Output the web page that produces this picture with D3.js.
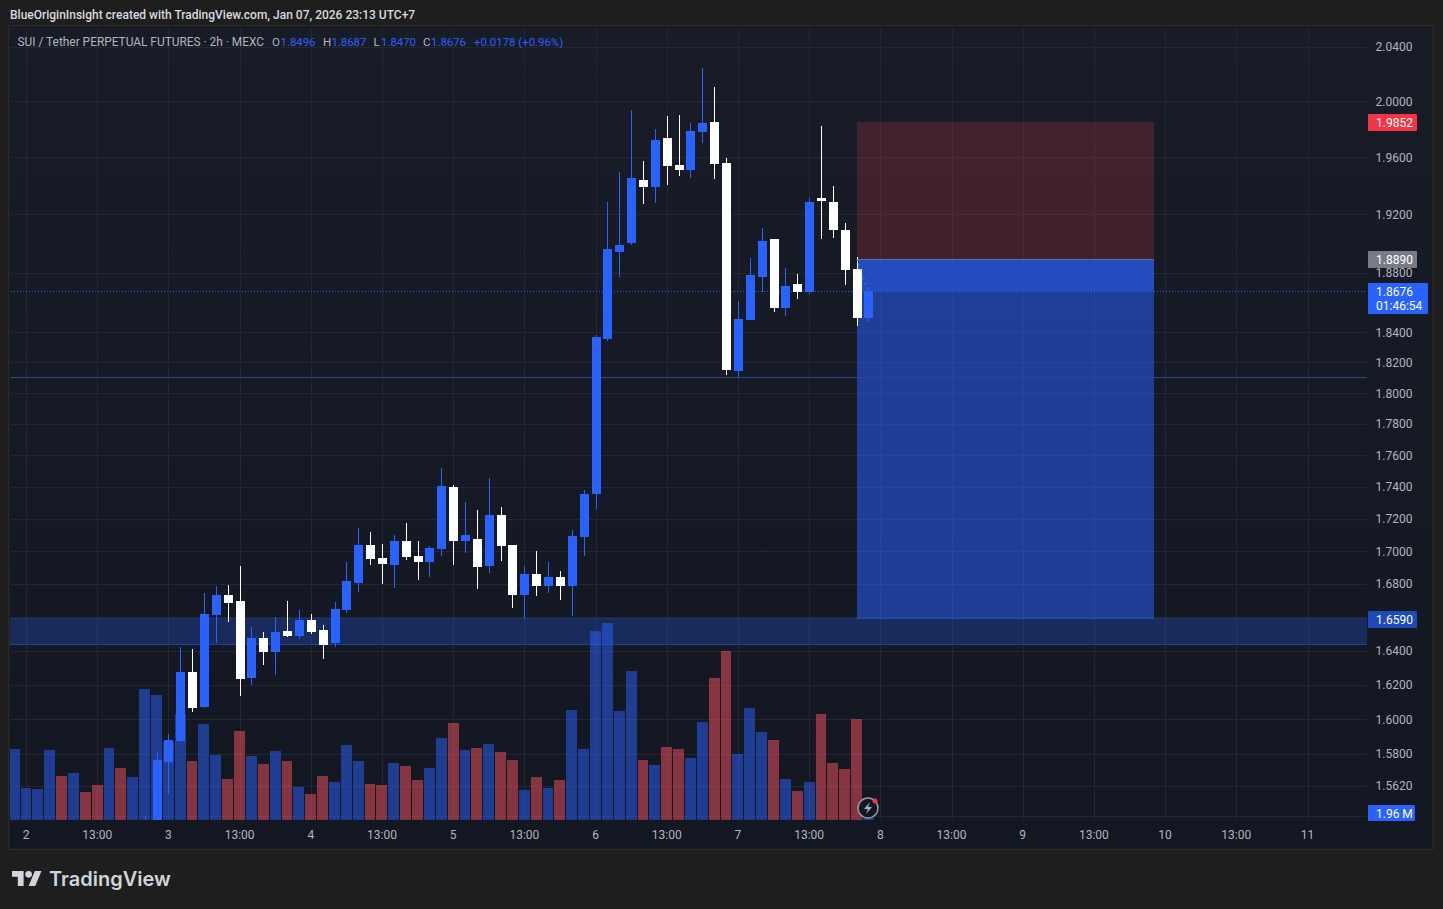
<!DOCTYPE html>
<html>
<head>
<meta charset="utf-8">
<style>
html,body{margin:0;padding:0;background:#1e1e1e;overflow:hidden}
svg{display:block}
text{font-family:Roboto,"Noto Sans",sans-serif}
</style>
<script src="https://cdn.jsdelivr.net/npm/d3@7/dist/d3.min.js"></script>
</head>
<body>
<div id="chart"></div>
<script>
// ---------- data ----------
const firstCandleIndex = 10;
const candleOpen  = [1.5200,1.5300,1.5755,1.5875,1.6275,1.6070,1.6614,1.6734,1.6698,1.6238,1.6476,1.6392,1.6518,1.6488,1.6584,1.6524,1.6446,1.6644,1.6806,1.7039,1.6960,1.6917,1.7064,1.6972,1.6935,1.7015,1.7400,1.7064,1.7076,1.6911,1.7224,1.7039,1.6734,1.6862,1.6788,1.6843,1.6788,1.7088,1.7356,1.8355,1.8941,1.9003,1.9440,1.9392,1.9738,1.9546,1.9511,1.9781,1.9852,1.9560,1.8145,1.8482,1.8770,1.9030,1.8562,1.8723,1.8670,1.9314,1.9286,1.9092,1.8825,1.8496];
const candleHigh  = [1.5449,1.5818,1.5915,1.6422,1.6410,1.6746,1.6788,1.6794,1.6911,1.6542,1.6512,1.6602,1.6698,1.6644,1.6620,1.6554,1.6692,1.6935,1.7144,1.7119,1.7046,1.7101,1.7174,1.7064,1.7033,1.7520,1.7413,1.7306,1.7255,1.7457,1.7274,1.7039,1.6911,1.7003,1.6935,1.6880,1.7131,1.7382,1.8380,1.9286,1.9497,1.9938,1.9574,1.9802,1.9895,1.9902,1.9845,2.0243,2.0104,1.9595,1.8609,1.8900,1.9106,1.9030,1.8832,1.8791,1.9314,1.9824,1.9399,1.9140,1.8908,1.8687];
const candleLow   = [1.5100,1.5250,1.5572,1.5870,1.6040,1.6064,1.6446,1.6572,1.6132,1.6198,1.6316,1.6258,1.6482,1.6470,1.6500,1.6351,1.6422,1.6626,1.6752,1.6917,1.6800,1.6776,1.6947,1.6825,1.6843,1.6972,1.6917,1.6990,1.6770,1.6868,1.6941,1.6656,1.6596,1.6728,1.6746,1.6704,1.6608,1.6972,1.7260,1.8342,1.8770,1.8989,1.9272,1.9279,1.9406,1.9469,1.9455,1.9702,1.9448,1.8119,1.8106,1.8482,1.8670,1.8535,1.8509,1.8623,1.8656,1.9030,1.9037,1.8717,1.8441,1.8470];
const candleClose = [1.5350,1.5766,1.5880,1.6275,1.6064,1.6620,1.6734,1.6686,1.6232,1.6476,1.6392,1.6512,1.6488,1.6584,1.6512,1.6434,1.6650,1.6819,1.7039,1.6954,1.6923,1.7064,1.6966,1.6935,1.7021,1.7406,1.7064,1.7101,1.6905,1.7224,1.7033,1.6734,1.6862,1.6788,1.6843,1.6788,1.7095,1.7356,1.8368,1.8962,1.8989,1.9454,1.9392,1.9724,1.9539,1.9511,1.9788,1.9845,1.9553,1.8151,1.8487,1.8784,1.9017,1.8562,1.8710,1.8670,1.9286,1.9293,1.9092,1.8818,1.8496,1.8676];

const firstVolumeIndex = -1;
const volumeValues = [85.2,38.4,37.2,84,52.8,56.4,33.6,42,86.4,62.4,51.6,157.2,150,93.6,127.2,70.8,115.2,78,49.2,106.8,76.8,67.2,82.8,70.8,39.6,31.2,52.8,45.6,90,70.8,43.2,42,68.4,64.8,48,62.4,98.4,116.4,84,86.4,91.2,81.6,72,36,51.6,38.4,48,132,85.2,226.8,236.4,130.8,178.8,72,66,87.6,85.2,74.4,117.6,170.4,202.8,79.2,134.4,105.6,96,49.2,34.8,45.6,127.2,68.4,61.2,121.2,1.96];
const volumeSide = ("bbbbrbrrbrb"+"bbbbrbbrrb"+"rbrbrrbbbr"+"rbrrbbrbrb"+"rrbrbrbbbb"+"bbrbrrbbrr"+"bbbrbrbrrrrb").split("");

const priceTickValues = [2.04,2.00,1.96,1.92,1.88,1.84,1.82,1.80,1.78,1.76,1.74,1.72,1.70,1.68,1.66,1.64,1.62,1.60,1.58,1.562,1.545];
const hiddenPriceTicks = [1.66,1.545];
const timeTickLabels = ["2","13:00","3","13:00","4","13:00","5","13:00","6","13:00","7","13:00","8","13:00","9","13:00","10","13:00","11"];
const timeTickIndex = [0,6,12,18,24,30,36,42,48,54,60,66,72,78,84,90,96,102,108];

const zoneTop = 1.6590, zoneBottom = 1.6440;
const horizontalRay = 1.8102;
const lastPrice = 1.8676, countdown = "01:46:54";
const entryPrice = 1.8890, stopPrice = 1.9852, targetPrice = 1.6590;
const positionStartIndex = 70, positionEndIndex = 95;
const legendPrefix = "SUI / Tether PERPETUAL FUTURES · 2h · MEXC";
const legendOHLC = [["O","1.8496"],["H","1.8687"],["L","1.8470"],["C","1.8676"]];
const legendChange = "+0.0178 (+0.96%)";
const headerText = "BlueOriginInsight created with TradingView.com, Jan 07, 2026 23:13 UTC+7";
const lastVolumeLabel = "1.96 M";

// ---------- layout ----------
const W = 1443, H = 909;
const frame = {l:10,t:27,r:1432,b:848};
const plot = {l:11,t:28,r:1367,b:820};
const BLUE="#2962ff", GRID="#242732", AXIS="#b2b5be";

const x = d3.scaleLinear().domain([0,108]).range([26,1307.5]);
const y = d3.scaleLog().domain([1.6,2.04]).range([719,46.5]);
const v = d3.scaleLinear().domain([0,240]).range([820,620]);

const svg = d3.select("#chart").append("svg").attr("width",W).attr("height",H);
const defs = svg.append("defs");
const grad = defs.append("linearGradient").attr("id","paneBg").attr("x1",0).attr("x2",0).attr("y1",0).attr("y2",1);
grad.append("stop").attr("offset","0%").attr("stop-color","#181c27");
grad.append("stop").attr("offset","100%").attr("stop-color","#131722");
defs.append("clipPath").attr("id","plotClip").append("rect")
  .attr("x",plot.l-1).attr("y",plot.t).attr("width",plot.r-plot.l+1).attr("height",plot.b-plot.t);

// frame
svg.append("rect").attr("x",frame.l-1.5).attr("y",frame.t-1.5).attr("width",frame.r-frame.l+3).attr("height",frame.b-frame.t+3)
  .attr("fill","none").attr("stroke","#2a2a2e").attr("stroke-width",1);
svg.append("rect").attr("x",frame.l).attr("y",frame.t).attr("width",frame.r-frame.l).attr("height",frame.b-frame.t).attr("fill","url(#paneBg)");

// grid
const gridG = svg.append("g");
gridG.selectAll("line.h").data(priceTickValues).join("line").attr("class","h")
  .attr("x1",plot.l).attr("x2",plot.r)
  .attr("y1",d=>Math.round(y(d))+.5).attr("y2",d=>Math.round(y(d))+.5)
  .attr("stroke",GRID);
gridG.selectAll("line.v").data(timeTickIndex).join("line").attr("class","v")
  .attr("y1",plot.t).attr("y2",plot.b)
  .attr("x1",d=>Math.round(x(d))+.5).attr("x2",d=>Math.round(x(d))+.5)
  .attr("stroke",GRID);

const clip = svg.append("g").attr("clip-path","url(#plotClip)");

// support zone
const zT=Math.round(y(zoneTop)), zB=Math.round(y(zoneBottom));
clip.append("rect").attr("x",plot.l-1).attr("width",plot.r-plot.l+1).attr("y",zT).attr("height",zB-zT).attr("fill","#2962ff").attr("opacity",.25);
clip.append("line").attr("x1",plot.l-1).attr("x2",plot.r).attr("y1",zT-.5).attr("y2",zT-.5).attr("stroke","#1a3474");
clip.append("line").attr("x1",plot.l-1).attr("x2",plot.r).attr("y1",zB+.5).attr("y2",zB+.5).attr("stroke","#1e40a0");

// position tool
const pL=Math.round(x(positionStartIndex)), pR=Math.round(x(positionEndIndex))+1;
const yEntry=Math.round(y(entryPrice)), yStop=Math.round(y(stopPrice)), yTarget=Math.round(y(targetPrice)), yLast=Math.round(y(lastPrice));
clip.append("rect").attr("x",pL).attr("width",pR-pL).attr("y",yStop).attr("height",yEntry-yStop).attr("fill","#f23645").attr("opacity",.2);
clip.append("rect").attr("x",pL).attr("width",pR-pL).attr("y",yEntry).attr("height",yTarget-yEntry).attr("fill","#2962ff").attr("opacity",.52);
clip.append("rect").attr("x",pL).attr("width",pR-pL).attr("y",yEntry).attr("height",yLast-yEntry).attr("fill","#2962ff").attr("opacity",.4);
clip.append("line").attr("x1",pL).attr("x2",pR).attr("y1",yEntry+.5).attr("y2",yEntry+.5).attr("stroke","#787b86").attr("opacity",.7);

// horizontal ray
clip.append("line").attr("x1",plot.l).attr("x2",plot.r).attr("y1",Math.round(y(horizontalRay))+.5).attr("y2",Math.round(y(horizontalRay))+.5).attr("stroke","#2b4796");

// last price dotted
clip.append("line").attr("x1",plot.l).attr("x2",plot.r).attr("y1",yLast+.5).attr("y2",yLast+.5)
  .attr("stroke",BLUE).attr("stroke-dasharray","1 2");

// volume
const volX = i => Math.round(x(i)-5.5);
clip.selectAll("rect.vol").data(volumeValues).join("rect").attr("class","vol")
  .attr("x",(d,k)=>volX(k+firstVolumeIndex))
  .attr("width",(d,k)=>volX(k+firstVolumeIndex+1)-volX(k+firstVolumeIndex)-1)
  .attr("y",d=>Math.round(v(d)))
  .attr("height",d=>plot.b-Math.round(v(d)))
  .attr("fill",(d,k)=>volumeSide[k]==="b"?"rgba(41,98,255,.5)":"rgba(247,82,95,.5)");

// candles
const candles = candleOpen.map((o,k)=>({i:k+firstCandleIndex,o,h:candleHigh[k],l:candleLow[k],c:candleClose[k]}));
const colorOf = d=>d.c>=d.o?BLUE:"#ffffff";
const cG = clip.append("g");
cG.selectAll("rect.wick").data(candles).join("rect").attr("class","wick")
  .attr("x",d=>Math.round(x(d.i))).attr("width",1)
  .attr("y",d=>Math.round(y(d.h))).attr("height",d=>Math.max(1,Math.round(y(d.l))-Math.round(y(d.h))))
  .attr("fill",colorOf);
cG.selectAll("rect.body").data(candles).join("rect").attr("class","body")
  .attr("x",d=>Math.round(x(d.i))-4).attr("width",9)
  .attr("y",d=>Math.round(y(Math.max(d.o,d.c))))
  .attr("height",d=>Math.max(1,Math.round(y(Math.min(d.o,d.c)))-Math.round(y(Math.max(d.o,d.c)))))
  .attr("fill",colorOf);

// position arrow
clip.append("path").attr("d",`M${pL},${yEntry} L${Math.round(x(71))},${yLast}`).attr("stroke","#787b86").attr("stroke-dasharray","2 3").attr("fill","none");

// price axis labels
const yAxis = d3.axisRight(y).tickValues(priceTickValues.filter(d=>!hiddenPriceTicks.includes(d)))
  .tickFormat(d3.format(".4f")).tickSize(0).tickPadding(0);
const yG = svg.append("g").attr("transform",`translate(1375.6,0.2)`).call(yAxis);
yG.select(".domain").remove();
yG.selectAll("text").attr("fill",AXIS).style("font-size","12px").style("font-family","Roboto");

// time axis labels
const xAxis = d3.axisBottom(x).tickValues(timeTickIndex).tickFormat((d,k)=>timeTickLabels[k]).tickSize(0).tickPadding(0);
const xG = svg.append("g").attr("transform",`translate(-0.5,830)`).call(xAxis);
xG.select(".domain").remove();
xG.selectAll("text").attr("fill",AXIS).style("font-size","12px").style("font-family","Roboto");

// price tags
function tag(yc,w,h,fill,lines){
  const g=svg.append("g");
  g.append("rect").attr("x",1368).attr("y",yc).attr("width",w).attr("height",h).attr("fill",fill).attr("rx",1);
  lines.forEach((t,k)=>{
    g.append("text").attr("x",1376).attr("y",yc+12.5+k*14).attr("fill","#fff").style("font-size","12px").text(t);
  });
}
const f4=d3.format(".4f");
tag(Math.round(y(stopPrice))-8,49,17,"#f23645",[f4(stopPrice)]);
tag(Math.round(y(entryPrice))-8,49,17,"#787b86",[f4(entryPrice)]);
tag(Math.round(y(lastPrice))-8,60,31,BLUE,[f4(lastPrice),countdown]);
tag(Math.round(y(targetPrice))-8,49,17,"#1e49b8",[f4(targetPrice)]);
tag(805,47,16,BLUE,[lastVolumeLabel]);

// header and legend
svg.append("text").attr("x",10).attr("y",19).attr("fill","#d9dae0").style("font-size","12px").style("font-weight",500).text(headerText);
const lg = svg.append("text").attr("y",46);
lg.append("tspan").attr("x",17.5).attr("fill",AXIS).style("font-size","11.9px").text(legendPrefix);
const letterX=[272,323,373.5,423], valueX=[280.5,331.4,381,431];
legendOHLC.forEach(([a,b],k)=>{
  lg.append("tspan").attr("x",letterX[k]).attr("fill",AXIS).style("font-size","11.6px").text(a);
  lg.append("tspan").attr("x",valueX[k]).attr("fill",BLUE).style("font-size","11.4px").text(b);
});
lg.append("tspan").attr("x",474).attr("fill",BLUE).style("font-size","11.4px").text(legendChange);

// lightning badge
const bd = svg.append("g").attr("transform","translate(868,808)");
bd.append("circle").attr("r",10).attr("fill","#131722").attr("stroke","#9598a1").attr("stroke-width",1.5);
bd.append("path").attr("d","M2,-6 L-4,1 L0,1 L-2,6 L4,-1 L0,-1 Z").attr("fill","#b2b5be");
bd.append("circle").attr("cx",7).attr("cy",-7).attr("r",2.5).attr("fill","#f23645");

// TradingView logo
const logo = svg.append("g").attr("transform","translate(12,867.7) scale(.83)").attr("fill","#d1d4dc");
logo.append("path").attr("d","M14 22H7V11H0V4h14v18zM28 22h-8l7.5-18h8L28 22z");
logo.append("circle").attr("cx",20).attr("cy",8).attr("r",4);
svg.append("text").attr("x",49).attr("y",886).attr("fill","#d1d4dc").style("font-family","Inter").style("font-size","20px").style("font-weight",600).text("TradingView");
</script>
</body>
</html>
